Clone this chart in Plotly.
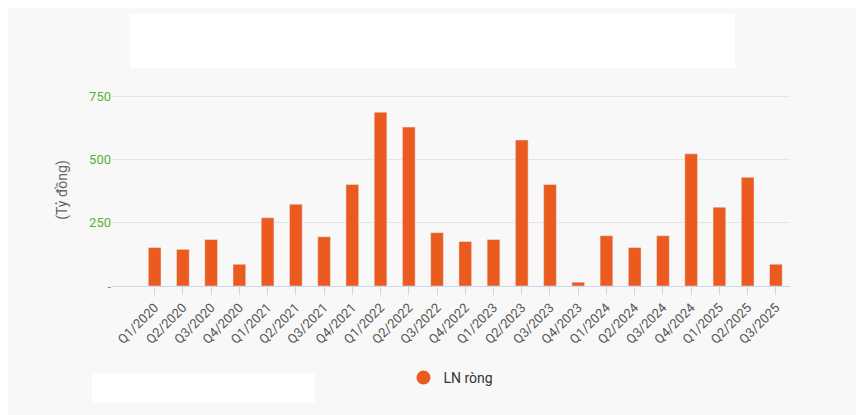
import plotly.graph_objects as go

quarters = ["Q1/2020","Q2/2020","Q3/2020","Q4/2020","Q1/2021","Q2/2021","Q3/2021","Q4/2021",
            "Q1/2022","Q2/2022","Q3/2022","Q4/2022","Q1/2023","Q2/2023","Q3/2023","Q4/2023",
            "Q1/2024","Q2/2024","Q3/2024","Q4/2024","Q1/2025","Q2/2025","Q3/2025"]
ln_rong = [152,145,184,86,270,324,195,402,688,629,211,176,184,578,402,15,199,152,199,523,312,430,86]
tick_vals = [0,250,500,750]
tick_text = ["-","250","500","750"]

ORANGE = "#eb5a1e"
fig = go.Figure()
fig.add_trace(go.Bar(x=quarters, y=ln_rong, name="LN ròng", marker_color=ORANGE, width=0.45, showlegend=False))
fig.add_trace(go.Scatter(x=[quarters[0]], y=[None], mode="markers", name="LN ròng",
                         marker=dict(color=ORANGE, size=14, symbol="circle")))
W, H = 856, 407
L, R, T, B = 104, 74, 86, 129
pw, ph = W - L - R, H - T - B
def px(x): return (x - 8 - L) / pw
def py(y): return (H - B - (y - 8)) / ph
fig.update_layout(
    width=W, height=H, paper_bgcolor="#f8f8f8", plot_bgcolor="#f8f8f8",
    margin=dict(l=L, r=R, t=T, b=B),
    font=dict(family="Roboto, Arial", size=13, color="#555"),
    showlegend=True,
    legend=dict(orientation="h", x=0.5, xanchor="center", y=py(362), yanchor="top",
                font=dict(size=14, color="#333"), bgcolor="rgba(0,0,0,0)"),
    shapes=[
        dict(type="rect", xref="paper", yref="paper", x0=px(130), x1=px(735),
             y0=py(68), y1=py(14), fillcolor="white", line_width=0, layer="below"),
        dict(type="rect", xref="paper", yref="paper", x0=px(92), x1=px(315),
             y0=py(402), y1=py(374), fillcolor="white", line_width=0, layer="below"),
    ],
)
fig.update_yaxes(range=[0,760], tickvals=tick_vals, ticktext=tick_text, gridcolor="#e4e4e4",
                 tickfont=dict(color="#5bb030", size=13), zeroline=False,
                 title=dict(text="(Tỷ đồng)", font=dict(color="#666", size=14), standoff=18))
fig.update_xaxes(tickangle=-45, showline=True, linecolor="#ccd6eb", ticks="outside",
                 tickcolor="#ccd6eb", ticklen=8, tickfont=dict(size=13, color="#555"))
fig.write_html("out.html")
